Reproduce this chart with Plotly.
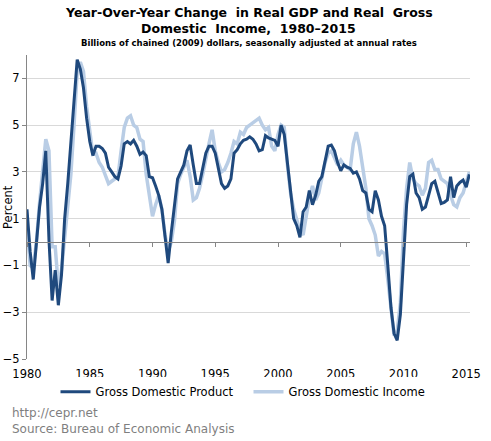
import pandas as pd
import plotly.graph_objects as go

# Quarterly dates 1980Q1 .. 2015Q2
quarters = pd.date_range("1980-01-01", periods=142, freq="QS")

gdp = [
    1.4, -0.4, -1.6, -0.1,    # 1980
    1.5, 2.5, 3.9, 0.1,       # 1981
    -2.5, -1.2, -2.7, -1.4,   # 1982
    1.0, 2.5, 4.3, 6.3,       # 1983
    7.8, 7.4, 6.6, 5.3,       # 1984
    4.3, 3.7, 4.1, 4.1,       # 1985
    4.0, 3.8, 3.2, 3.0,       # 1986
    2.8, 2.7, 3.25, 4.2,      # 1987
    4.3, 4.2, 4.35, 4.1,      # 1988
    3.75, 3.85, 3.7, 2.8,     # 1989
    2.75, 2.4, 2.0, 1.4,      # 1990
    0.1, -0.9, 0.4, 1.5,      # 1991
    2.7, 3.0, 3.3, 3.9,       # 1992
    4.15, 3.3, 2.5, 2.5,      # 1993
    3.1, 3.8, 4.1, 4.1,       # 1994
    3.8, 3.1, 2.5, 2.3,       # 1995
    2.4, 2.7, 3.8, 3.95,      # 1996
    4.2, 4.35, 4.4, 4.5,      # 1997
    4.4, 4.2, 3.9, 3.95,      # 1998
    4.55, 4.45, 4.4, 4.35,    # 1999
    4.1, 5.0, 4.6, 3.4,       # 2000
    2.2, 1.0, 0.7, 0.2,       # 2001
    1.3, 1.5, 2.2, 1.6,       # 2002
    2.0, 2.6, 2.8, 3.4,       # 2003
    4.1, 4.15, 3.9, 3.4,      # 2004
    3.05, 3.3, 3.2, 3.15,     # 2005
    2.95, 3.0, 2.7, 2.2,      # 2006
    2.1, 1.4, 1.3, 2.2,       # 2007
    1.8, 1.1, 0.7, -1.0,      # 2008
    -2.8, -3.9, -4.2, -3.1,   # 2009
    -0.6, 1.6, 2.8, 2.9,      # 2010
    2.1, 1.9, 1.4, 1.5,       # 2011
    2.0, 2.5, 2.6, 2.1,       # 2012
    1.65, 1.7, 1.8, 2.8,      # 2013
    1.9, 2.4, 2.55, 2.65,     # 2014
    2.35, 2.9,                # 2015
]

gdi = [
    0.8, -1.0, -1.1, 0.0,     # 1980
    1.7, 2.9, 4.4, 3.9,       # 1981
    -0.2, -0.2, -1.9, -1.2,   # 1982
    0.1, 1.5, 2.9, 5.0,       # 1983
    7.3, 7.7, 7.3, 5.8,       # 1984
    4.6, 3.75, 3.8, 3.4,      # 1985
    3.2, 2.8, 2.5, 2.6,       # 1986
    2.7, 2.8, 3.9, 4.9,       # 1987
    5.3, 5.4, 5.0, 4.9,       # 1988
    4.4, 4.3, 2.9, 2.1,       # 1989
    1.1, 1.6, 2.0, 1.4,       # 1990
    0.3, -0.4, 0.0, 0.9,      # 1991
    2.5, 2.9, 3.2, 3.5,       # 1992
    2.8, 1.8, 1.9, 2.3,       # 1993
    2.9, 3.6, 4.2, 4.8,       # 1994
    3.9, 3.4, 3.0, 3.1,       # 1995
    3.4, 3.8, 4.3, 4.2,       # 1996
    4.7, 4.6, 4.9, 5.0,       # 1997
    5.1, 5.2, 5.3, 5.0,       # 1998
    4.8, 4.9, 4.1, 3.9,       # 1999
    4.6, 5.0, 4.9, 3.3,       # 2000
    2.1, 1.4, 0.9, 0.5,       # 2001
    0.3, 1.2, 1.9, 2.4,       # 2002
    1.8, 2.1, 2.8, 3.4,       # 2003
    3.8, 3.9, 3.6, 3.3,       # 2004
    3.5, 3.3, 3.2, 3.1,       # 2005
    4.2, 4.7, 4.1, 3.2,       # 2006
    2.3, 1.0, 0.7, 0.3,       # 2007
    -0.6, -0.4, -0.5, -1.6,   # 2008
    -3.0, -4.0, -3.8, -2.6,   # 2009
    0.5, 2.3, 3.4, 2.7,       # 2010
    2.5, 2.4, 2.0, 2.3,       # 2011
    3.4, 3.5, 3.1, 3.1,       # 2012
    2.7, 2.6, 2.5, 2.0,       # 2013
    1.6, 1.5, 1.9, 2.1,       # 2014
    2.6, 3.0,                 # 2015
]

year_ticks = ["1980", "1985", "1990", "1995", "2000", "2005", "2010", "2015"]
y_ticks = [-5, -3, -1, 1, 3, 5, 7]

title_lines = ["Year-Over-Year Change  in Real GDP and Real  Gross",
               "Domestic  Income,  1980\u20132015"]
subtitle = "Billions of chained (2009) dollars, seasonally adjusted at annual rates"
series_names = ["Gross Domestic Product", "Gross Domestic Income"]

FONT = "Verdana, DejaVu Sans, sans-serif"
DARK = "#1F497D"
LIGHT = "#B9CDE5"

tick_dates = [f"{y}-01-01" for y in year_ticks]
x_range = ["1980-01-01", "2015-04-20"]

fig = go.Figure()
fig.add_trace(go.Scatter(x=quarters, y=gdi, mode="lines", name=series_names[1],
                         line=dict(color=LIGHT, width=3.5), legendrank=2))
fig.add_trace(go.Scatter(x=quarters, y=gdp, mode="lines", name=series_names[0],
                         line=dict(color=DARK, width=3), legendrank=1))
# helper trace so the zero-line axis is drawn
fig.add_trace(go.Scatter(x=[quarters[0]], y=[None], xaxis="x2", showlegend=False,
                         hoverinfo="skip"))

fig.update_layout(
    width=491, height=441,
    margin=dict(l=27, r=21, t=55, b=82, autoexpand=False),
    paper_bgcolor="white", plot_bgcolor="white",
    font=dict(family=FONT, size=11, color="black"),
    showlegend=True,
    legend=dict(orientation="h", x=0.5, xanchor="center", y=-0.108, yanchor="middle",
                font=dict(size=11.5, family=FONT), itemwidth=30, tracegroupgap=0,
                entrywidthmode="pixels", entrywidth=148),
    xaxis=dict(type="date", range=x_range, tickvals=tick_dates, ticktext=year_ticks,
               showgrid=False, showline=False, zeroline=False, ticks="",
               ticklabelstandoff=6,
               automargin=False, tickfont=dict(size=11.5, family=FONT)),
    xaxis2=dict(type="date", range=x_range, overlaying="x", anchor="free",
                position=5 / 13, tickvals=tick_dates, showticklabels=False,
                showline=True, linecolor="#868686", linewidth=1, ticks="outside",
                ticklen=4, tickcolor="#868686", showgrid=False, zeroline=False,
                automargin=False),
    yaxis=dict(range=[-5, 8], tickvals=y_ticks, showgrid=True, gridcolor="#D9D9D9",
               gridwidth=1, zeroline=False, showline=True, linecolor="#868686",
               ticks="outside", ticklen=4, tickcolor="#868686", automargin=False,
               tickfont=dict(size=11.5, family=FONT)),
)

fig.add_annotation(text="<b>" + title_lines[0] + "</b>", xref="paper", yref="paper",
                   x=0.5, y=1.141, xanchor="center", yanchor="middle", showarrow=False,
                   font=dict(size=12.5, family=FONT, color="black"))
fig.add_annotation(text="<b>" + title_lines[1] + "</b>", xref="paper", yref="paper",
                   x=0.5, y=1.086, xanchor="center", yanchor="middle", showarrow=False,
                   font=dict(size=12.5, family=FONT, color="black"))
fig.add_annotation(text="<b>" + subtitle + "</b>", xref="paper", yref="paper",
                   x=0.5, y=1.039, xanchor="center", yanchor="middle", showarrow=False,
                   font=dict(size=8.5, family=FONT, color="black"))
fig.add_annotation(text="Percent", xref="paper", yref="paper", x=-0.043, y=0.5,
                   textangle=-90, xanchor="center", yanchor="middle", showarrow=False,
                   font=dict(size=11.5, family=FONT, color="black"))
fig.add_annotation(text="http://cepr.net", xref="paper", yref="paper", x=-0.038,
                   y=-0.178, xanchor="left", yanchor="middle", showarrow=False,
                   font=dict(size=12, family=FONT, color="#7F7F7F"))
fig.add_annotation(text="Source: Bureau of Economic Analysis", xref="paper", yref="paper",
                   x=-0.038, y=-0.230, xanchor="left", yanchor="middle", showarrow=False,
                   font=dict(size=12, family=FONT, color="#7F7F7F"))

fig.write_html("out.html",
               config={"displayModeBar": False, "staticPlot": True},
               post_script="document.body.style.margin='0px';"
                           "document.body.style.overflow='hidden';")
